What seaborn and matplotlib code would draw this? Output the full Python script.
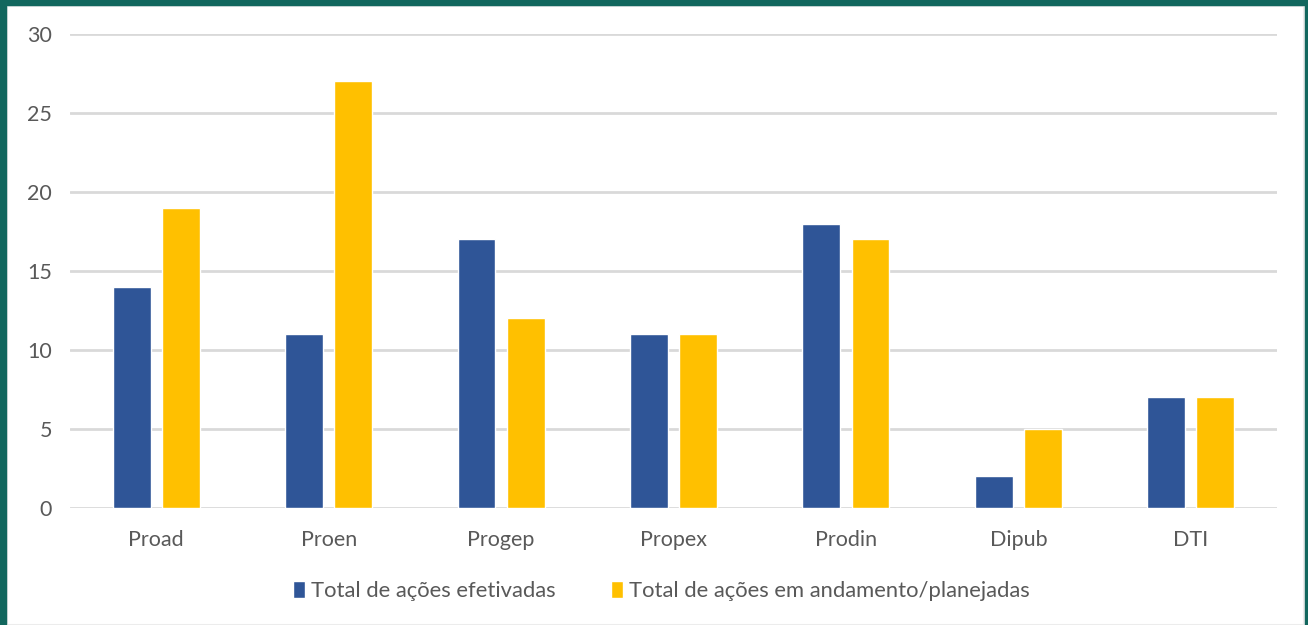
import matplotlib
matplotlib.use("Agg")
import matplotlib.pyplot as plt
from matplotlib.patches import Rectangle
import pandas as pd
import seaborn as sns

categorias = ["Proad", "Proen", "Progep", "Propex", "Prodin", "Dipub", "DTI"]
efetivadas = [14, 11, 17, 11, 18, 2, 7]
andamento = [19, 27, 12, 11, 17, 5, 7]
series = ["Total de ações efetivadas", "Total de ações em andamento/planejadas"]
y_ticks = [0, 5, 10, 15, 20, 25, 30]

df = pd.DataFrame({
    "categoria": categorias * 2,
    "valor": efetivadas + andamento,
    "serie": [series[0]] * len(categorias) + [series[1]] * len(categorias),
})

sns.set_theme(style="white")
plt.rcParams["font.family"] = ["Lato", "DejaVu Sans"]

W, H = 1308, 625
fig = plt.figure(figsize=(W / 100, H / 100), dpi=100, facecolor="#ffffff")

# teal frame around the panel
frame = "#12675e"
fig.patches.append(Rectangle((0, 0), 6 / W, 1, transform=fig.transFigure, color=frame, zorder=10))
fig.patches.append(Rectangle((0, 1 - 5 / H), 1, 5 / H, transform=fig.transFigure, color=frame, zorder=10))
fig.patches.append(Rectangle((1 - 3 / W, 0), 3 / W, 1, transform=fig.transFigure, color=frame, zorder=10))
fig.patches.append(Rectangle((7 / W, 0), 1 - 11 / W, 1 - 6 / H, transform=fig.transFigure,
                             fill=False, edgecolor="#ececec", linewidth=1.5, zorder=9))

ax = fig.add_axes([70 / W, (H - 508) / H, (1277 - 70) / W, (508 - 34) / H])
ax.set_facecolor("none")

sns.barplot(
    data=df, x="categoria", y="valor", hue="serie", order=categorias, hue_order=series,
    palette=["#2f5597", "#ffc000"], width=0.57, gap=0.23, saturation=1,
    errorbar=None, ax=ax, zorder=3,
)

ax.set_xlim(-0.5, len(categorias) - 0.5)
ax.set_ylim(0, 30)
ax.set_yticks(y_ticks)
ax.yaxis.grid(True, color="#d9d9d9", linewidth=2)
ax.set_axisbelow(True)
for s in ax.spines.values():
    s.set_visible(False)
ax.set_xlabel("")
ax.set_ylabel("")
ax.tick_params(axis="both", length=0, labelsize=15.5, colors="#595959")
ax.tick_params(axis="x", pad=16)
ax.tick_params(axis="y", pad=13)

leg = ax.legend(
    loc="center", bbox_to_anchor=(0.49, -0.175), ncol=2, frameon=False,
    fontsize=15.8, handlelength=0.55, handleheight=0.8, handletextpad=0.3,
    columnspacing=2.5, labelcolor="#595959",
)

fig.savefig("out.png", dpi=100, facecolor=fig.get_facecolor())
